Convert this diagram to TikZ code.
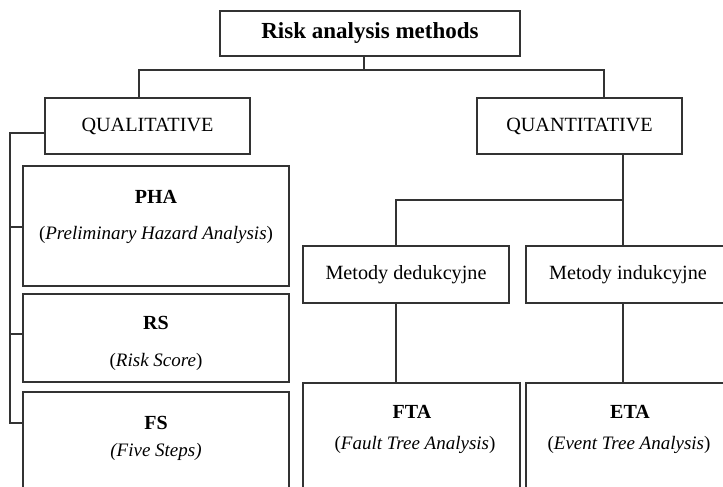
\documentclass[tikz,border=0pt]{standalone}
\usepackage{fontspec}
\setmainfont{Liberation Serif}
\begin{document}
\begin{tikzpicture}[x=1pt,y=-1pt,
  box/.style={draw=black!80,line width=1.1pt,rectangle,inner sep=0pt},
  conn/.style={draw=black!80,line width=1.1pt},
  reg/.style={font=\fontsize{20.2}{24}\selectfont},
  ttl/.style={font=\fontsize{23}{27}\selectfont\bfseries},
  hd/.style={inner sep=0pt,font=\fontsize{20}{24}\selectfont\bfseries},
  sub/.style={inner sep=0pt,font=\fontsize{19}{23}\selectfont}]
\useasboundingbox (0,0) rectangle (723,487);
\clip (0,0) rectangle (723,487);
% boxes
\node[box,ttl,minimum width=300pt,minimum height=45pt] (top) at (370,33.5) {Risk analysis methods};
\node[box,reg,minimum width=205pt,minimum height=56pt] (qual) at (147.5,126) {QUALITATIVE};
\node[box,reg,minimum width=205pt,minimum height=56pt] (quan) at (579.5,126) {QUANTITATIVE};
\node[box,minimum width=266pt,minimum height=120pt] (pha) at (156,226) {};
\node[box,minimum width=266pt,minimum height=88pt] (rs) at (156,338) {};
\node[box,minimum width=266pt,minimum height=118pt] (fs) at (156,451) {};
\node[box,reg,minimum width=206pt,minimum height=57pt] (ded) at (406,274.5) {Metody dedukcyjne};
\node[box,reg,minimum width=204pt,minimum height=57pt] (ind) at (628,274.5) {Metody indukcyjne};
\node[box,minimum width=217pt,minimum height=120pt] (fta) at (411.5,443) {};
\node[box,minimum width=208pt,minimum height=120pt] (eta) at (630,443) {};
% texts
\node[hd] (phat) at (156,197) {PHA};
\node[sub] (phas) at (156,235) {(\textit{Preliminary Hazard Analysis})};
\node[hd] (rst) at (156,323) {RS};
\node[sub] (rss) at (156,362) {(\textit{Risk Score})};
\node[hd] (fst) at (156,423) {FS};
\node[sub] (fss) at (156,452) {\textit{(Five Steps)}};
\node[hd] (ftat) at (412,412) {FTA};
\node[sub] (ftas) at (415,445) {(\textit{Fault Tree Analysis})};
\node[hd] (etat) at (630,412) {ETA};
\node[sub] (etas) at (629,445) {(\textit{Event Tree Analysis})};
% connectors
\coordinate (j0) at (364,70);
\coordinate (jl) at (139,70);
\coordinate (jr) at (604,70);
\draw[conn] (top.south -| j0) -- (j0);
\draw[conn] (jl |- qual.north) -- (jl) -- (jr) -- (jr |- quan.north);
\coordinate (s0) at (10,133);
\coordinate (s1) at (10,227);
\coordinate (s2) at (10,334);
\coordinate (s3) at (10,423);
\draw[conn] (qual.west |- s0) -- (s0) -- (s3) -- (s3 -| fs.west);
\draw[conn] (s1) -- (s1 -| pha.west);
\draw[conn] (s2) -- (s2 -| rs.west);
\coordinate (q1) at (623,200);
\coordinate (q2) at (396,200);
\draw[conn] (quan.south -| q1) -- (q1 |- ind.north);
\draw[conn] (q1) -- (q2) -- (q2 |- ded.north);
\draw[conn] (q2 |- ded.south) -- (q2 |- fta.north);
\draw[conn] (q1 |- ind.south) -- (q1 |- eta.north);
\end{tikzpicture}
\end{document}
